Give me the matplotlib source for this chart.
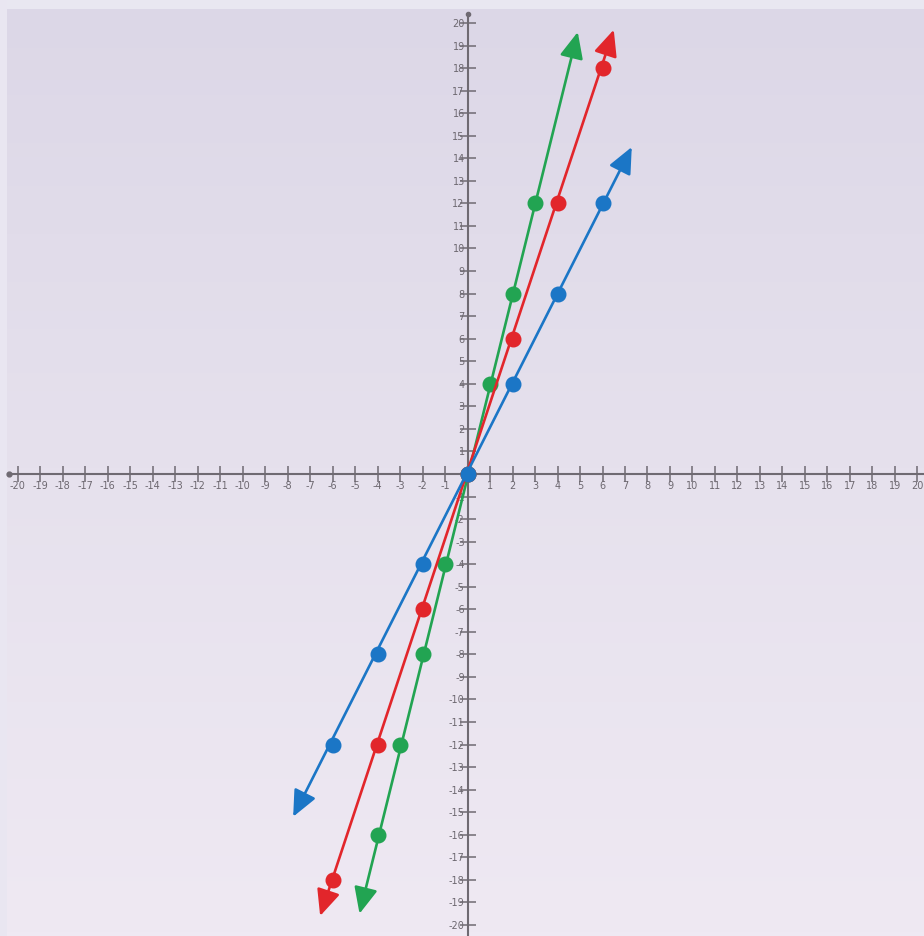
import numpy as np
import matplotlib.pyplot as plt
from matplotlib.patches import FancyArrowPatch
from matplotlib.colors import LinearSegmentedColormap

# data: points on y = 2x, y = 3x, y = 4x
blue_x = [-6, -4, -2, 0, 2, 4, 6]
blue_y = [-12, -8, -4, 0, 4, 8, 12]
red_x = [-6, -4, -2, 0, 2, 4, 6]
red_y = [-18, -12, -6, 0, 6, 12, 18]
green_x = [-4, -3, -2, -1, 0, 1, 2, 3]
green_y = [-16, -12, -8, -4, 0, 4, 8, 12]

# where each line's arrowheads end
blue_ends = [(-7.75, -15.2), (7.3, 14.5)]
red_ends = [(-6.55, -19.6), (6.5, 19.7)]
green_ends = [(-4.8, -19.5), (4.9, 19.6)]

ticks = [t for t in range(-20, 21) if t != 0]

BLUE = "#1b76c6"
RED = "#e2262b"
GREEN = "#22a452"
AXIS = "#6f6a72"

fig = plt.figure(figsize=(9.24, 9.36), dpi=100)
ax = fig.add_axes([0, 0, 1, 1])

xmin, xmax = -20.78, 20.29
ymin, ymax = -20.49, 21.02

# soft lavender gradient background, darker at the top
cmap = LinearSegmentedColormap.from_list("bg", ["#dcd7e7", "#e6e1ed", "#efe9f3"])
grad = np.linspace(0, 1, 256).reshape(-1, 1)
ax.imshow(grad, cmap=cmap, extent=[xmin, xmax, ymin, ymax], aspect="auto",
          origin="upper", zorder=0)
# pale strips along the top and left edges
ax.axhspan(20.62, ymax, color="#e9e7f1", zorder=0.5, lw=0)
ax.axvspan(xmin, -20.45, color="#e9e6f1", zorder=0.5, lw=0)

ax.set_xlim(xmin, xmax)
ax.set_ylim(ymin, ymax)

# axes through the origin
for side in ("top", "right"):
    ax.spines[side].set_visible(False)
ax.spines["left"].set_position(("data", 0))
ax.spines["bottom"].set_position(("data", 0))
ax.spines["left"].set_bounds(-20.6, 20.4)
ax.spines["bottom"].set_bounds(-20.4, 20.29)
for side in ("left", "bottom"):
    ax.spines[side].set_color(AXIS)
    ax.spines[side].set_linewidth(1.5)
    ax.spines[side].set_zorder(1)

ax.set_xticks(ticks)
ax.set_yticks(ticks)
ax.set_xticklabels([str(t) for t in ticks])
ax.set_yticklabels([str(t) for t in ticks])
ax.tick_params(direction="inout", length=12, width=1.1, color=AXIS,
               labelcolor="#6d6870", labelsize=7, pad=1)
ax.tick_params(axis="x", pad=-1)
ax.tick_params(axis="y", pad=-4)

# end dots on the axes
ax.plot([-20.4], [0], "o", color=AXIS, ms=3.5, zorder=2, clip_on=False)
ax.plot([0], [20.4], "o", color=AXIS, ms=3, zorder=2, clip_on=False)

def draw_line(xs, ys, ends, color, z):
    (x0, y0), (x1, y1) = ends
    arr = FancyArrowPatch((x0, y0), (x1, y1),
                          arrowstyle="<|-|>,head_length=1.0,head_width=0.45",
                          mutation_scale=16, color=color, lw=1.9, zorder=z,
                          shrinkA=0, shrinkB=0)
    ax.add_patch(arr)
    ax.plot(xs, ys, "o", color=color, ms=10.5, zorder=z + 0.5)

draw_line(green_x, green_y, green_ends, GREEN, 3)
draw_line(red_x, red_y, red_ends, RED, 4)
draw_line(blue_x, blue_y, blue_ends, BLUE, 5)

fig.savefig("out.png", dpi=100)
